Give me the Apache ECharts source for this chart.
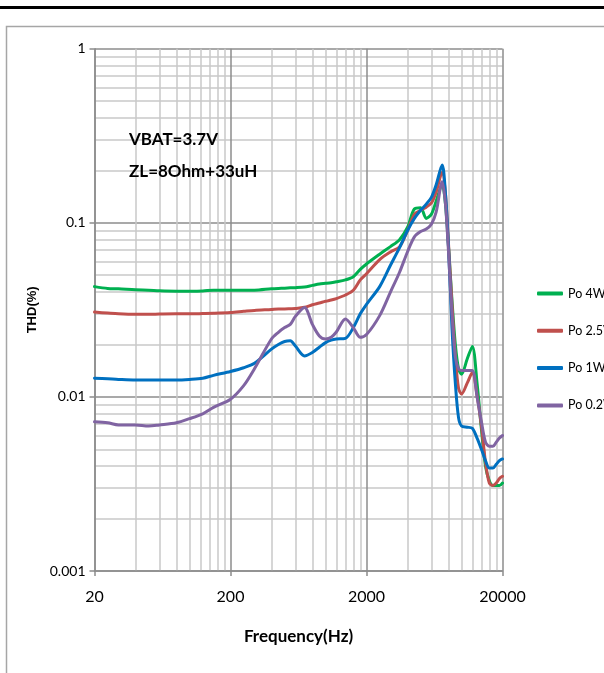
<!DOCTYPE html>
<html>
<head>
<meta charset="utf-8">
<title>THD vs Frequency</title>
<script src="https://cdn.jsdelivr.net/npm/echarts@6/dist/echarts.min.js"></script>
<style>
	html, body { margin: 0; padding: 0; background: #fff; }
	#chart { width: 604px; height: 673px; }
</style>
</head>
<body>
<div id="chart"></div>
<script type="text/javascript">
	// 频率点 (Hz)
	var freqs = [20, 25, 30, 40, 50, 60, 80, 100, 125, 150,
		200, 250, 300, 400, 450, 500, 550, 600, 700, 800,
		900, 1000, 1100, 1200, 1400, 1600, 1800, 2000, 2500, 3000,
		3500, 4000, 4500, 5000, 5500, 6000, 6500, 7200, 7600, 8000,
		8500, 9000, 9500, 10000, 11000, 12000, 13000, 14000, 15000, 16000,
		17000, 18000, 19000, 20000];

	// THD(%) 各功率
	var po4W = [0.043, 0.042, 0.0418, 0.0412, 0.041, 0.0407, 0.0405, 0.0405, 0.0406, 0.041,
		0.041, 0.041, 0.041, 0.0418, 0.042, 0.0421, 0.0423, 0.0424, 0.0428, 0.0437,
		0.0445, 0.0449, 0.0453, 0.0458, 0.047, 0.049, 0.054, 0.058, 0.066, 0.073,
		0.08, 0.094, 0.12, 0.122, 0.106, 0.112, 0.133, 0.166, 0.13, 0.075,
		0.036, 0.02, 0.0145, 0.0135, 0.0165, 0.0195, 0.012, 0.0065, 0.004, 0.0033,
		0.0031, 0.0031, 0.0031, 0.0032];
	var po25V = [0.0307, 0.0303, 0.030, 0.0298, 0.0298, 0.0299, 0.030, 0.030, 0.0301, 0.0302,
		0.0305, 0.031, 0.0314, 0.0318, 0.032, 0.032, 0.0321, 0.0322, 0.0327, 0.0338,
		0.0346, 0.0354, 0.036, 0.0367, 0.0385, 0.041, 0.047, 0.051, 0.0615, 0.068,
		0.0727, 0.09, 0.112, 0.118, 0.123, 0.13, 0.15, 0.195, 0.15, 0.078,
		0.034, 0.017, 0.0112, 0.0104, 0.012, 0.0138, 0.0102, 0.0068, 0.0042, 0.0032,
		0.0031, 0.0032, 0.0034, 0.0035];
	var po1W = [0.0128, 0.0127, 0.0126, 0.0125, 0.0125, 0.0125, 0.0125, 0.0126, 0.0128, 0.0133,
		0.014, 0.0147, 0.0156, 0.0188, 0.02, 0.0208, 0.021, 0.0196, 0.0172, 0.018,
		0.0193, 0.0205, 0.0212, 0.0215, 0.0217, 0.025, 0.03, 0.034, 0.043, 0.057,
		0.072, 0.09, 0.106, 0.118, 0.128, 0.14, 0.165, 0.215, 0.15, 0.075,
		0.025, 0.012, 0.0076, 0.0068, 0.0067, 0.0066, 0.0058, 0.005, 0.0043, 0.0039,
		0.0039, 0.0041, 0.0043, 0.0044];
	var po02W = [0.0072, 0.0071, 0.0069, 0.0069, 0.0068, 0.0069, 0.0071, 0.0075, 0.008, 0.0087,
		0.0097, 0.0116, 0.0145, 0.0215, 0.0235, 0.025, 0.0261, 0.029, 0.0326, 0.0261,
		0.0224, 0.0215, 0.022, 0.0236, 0.028, 0.025, 0.022, 0.0228, 0.0293, 0.04,
		0.052, 0.068, 0.083, 0.089, 0.092, 0.098, 0.115, 0.172, 0.13, 0.07,
		0.03, 0.017, 0.0145, 0.0142, 0.0142, 0.0142, 0.01, 0.0072, 0.0055, 0.0052,
		0.0052, 0.0055, 0.0058, 0.006];

	var seriesNames = ['Po 4W', 'Po 2.5V', 'Po 1W', 'Po 0.2W'];
	var seriesColors = ['#00B050', '#C0504D', '#0070C0', '#8064A2'];

	// 坐标轴刻度
	var xMajor = [20, 200, 2000, 20000];
	var xMinor = [40, 60, 80, 100, 120, 140, 160, 180,
		400, 600, 800, 1000, 1200, 1400, 1600, 1800,
		4000, 6000, 8000, 10000, 12000, 14000, 16000, 18000];
	var yMajor = [0.001, 0.01, 0.1, 1];
	var yTickLabels = ['0.001', '0.01', '0.1', '1'];
	var yMinor = [0.002, 0.003, 0.004, 0.005, 0.006, 0.007, 0.008, 0.009,
		0.02, 0.03, 0.04, 0.05, 0.06, 0.07, 0.08, 0.09,
		0.2, 0.3, 0.4, 0.5, 0.6, 0.7, 0.8, 0.9];

	var narrow = 'Lato, "Noto Sans", sans-serif';

	function pairs(vals) {
		var out = [];
		for (var i = 0; i < freqs.length; i++) {
			out.push([freqs[i], vals[i]]);
		}
		return out;
	}

	var allData = [po4W, po25V, po1W, po02W];
	var series = [];
	for (var s = 0; s < allData.length; s++) {
		series.push({
			name: seriesNames[s],
			type: 'line',
			data: pairs(allData[s]),
			smooth: 0.3,
			showSymbol: false,
			lineStyle: { width: 3, color: seriesColors[s], cap: 'round', join: 'round' },
			itemStyle: { color: seriesColors[s] }
		});
	}

	var myChart = echarts.init(document.getElementById('chart'));
	var option = {
		backgroundColor: '#ffffff',
		animation: false,
		grid: { left: 94.5, right: 101.5, top: 48.7, bottom: 102 },
		graphic: [
			{ type: 'rect', z: 100, shape: { x: 0, y: 6, width: 604, height: 3 }, style: { fill: '#000' } },
			{ type: 'rect', z: 100, shape: { x: 6.5, y: 26.5, width: 700, height: 700 }, style: { fill: null, stroke: '#a6a6a6', lineWidth: 1.5 } },
			{ type: 'text', z: 100, left: 129, top: 131, style: { text: 'VBAT=3.7V', fontFamily: narrow, fontWeight: 'bold', fontSize: 17, fill: '#000' } },
			{ type: 'text', z: 100, left: 129, top: 163, style: { text: 'ZL=8Ohm+33uH', fontFamily: narrow, fontWeight: 'bold', fontSize: 17, fill: '#000' } }
		],
		legend: {
			orient: 'vertical',
			left: 537,
			top: 287,
			padding: 0,
			itemWidth: 26,
			itemHeight: 4,
			itemGap: 24.3,
			icon: 'roundRect',
			data: seriesNames,
			textStyle: { fontFamily: narrow, fontSize: 12.5, color: '#000' }
		},
		xAxis: [{
			type: 'log',
			logBase: 10,
			min: 20,
			max: 20000,
			name: 'Frequency(Hz)',
			nameLocation: 'middle',
			nameGap: 57,
			nameTextStyle: { fontFamily: narrow, fontWeight: 'bold', fontSize: 17, color: '#000' },
			axisLine: { show: true, lineStyle: { color: '#8c8c8c', width: 1.5 } },
			axisTick: { show: true, length: 5, lineStyle: { color: '#8c8c8c', width: 1.5 }, customValues: xMajor },
			axisLabel: { customValues: xMajor, margin: 18, fontFamily: narrow, fontSize: 16, color: '#000',
				formatter: function(v) { return String(Math.round(v)); } },
			splitLine: { show: true, lineStyle: { color: '#8c8c8c', width: 1.5 } },
			minorTick: { show: false },
			minorSplitLine: { show: false }
		}, {
			type: 'log',
			logBase: 10,
			min: 20,
			max: 20000,
			position: 'bottom',
			axisLine: { show: false },
			axisTick: { show: false, customValues: xMinor },
			axisLabel: { show: false },
			splitLine: { show: true, lineStyle: { color: '#c8c8c8', width: 1.5 } }
		}],
		yAxis: [{
			type: 'log',
			logBase: 10,
			min: 0.001,
			max: 1,
			name: 'THD(%)',
			nameLocation: 'middle',
			nameGap: 52,
			nameRotate: 90,
			nameTextStyle: { fontFamily: '"Liberation Sans", Arial, sans-serif', fontWeight: 'bold', fontSize: 13, color: '#000' },
			axisLine: { show: true, lineStyle: { color: '#8c8c8c', width: 1.5 } },
			axisTick: { show: true, length: 5, lineStyle: { color: '#8c8c8c', width: 1.5 }, customValues: yMajor },
			axisLabel: { customValues: yMajor, margin: 9, fontFamily: narrow, fontSize: 14, color: '#000',
				formatter: function(v) {
					for (var i = 0; i < yMajor.length; i++) {
						if (Math.abs(Math.log10(v) - Math.log10(yMajor[i])) < 0.01) return yTickLabels[i];
					}
					return '';
				} },
			splitLine: { show: true, lineStyle: { color: '#8c8c8c', width: 1.5 } }
		}, {
			type: 'log',
			logBase: 10,
			min: 0.001,
			max: 1,
			position: 'left',
			axisLine: { show: false },
			axisTick: { show: false, customValues: yMinor },
			axisLabel: { show: false },
			splitLine: { show: true, lineStyle: { color: '#c8c8c8', width: 1.5 } }
		}],
		series: series
	};
	myChart.setOption(option);
</script>
</body>
</html>
